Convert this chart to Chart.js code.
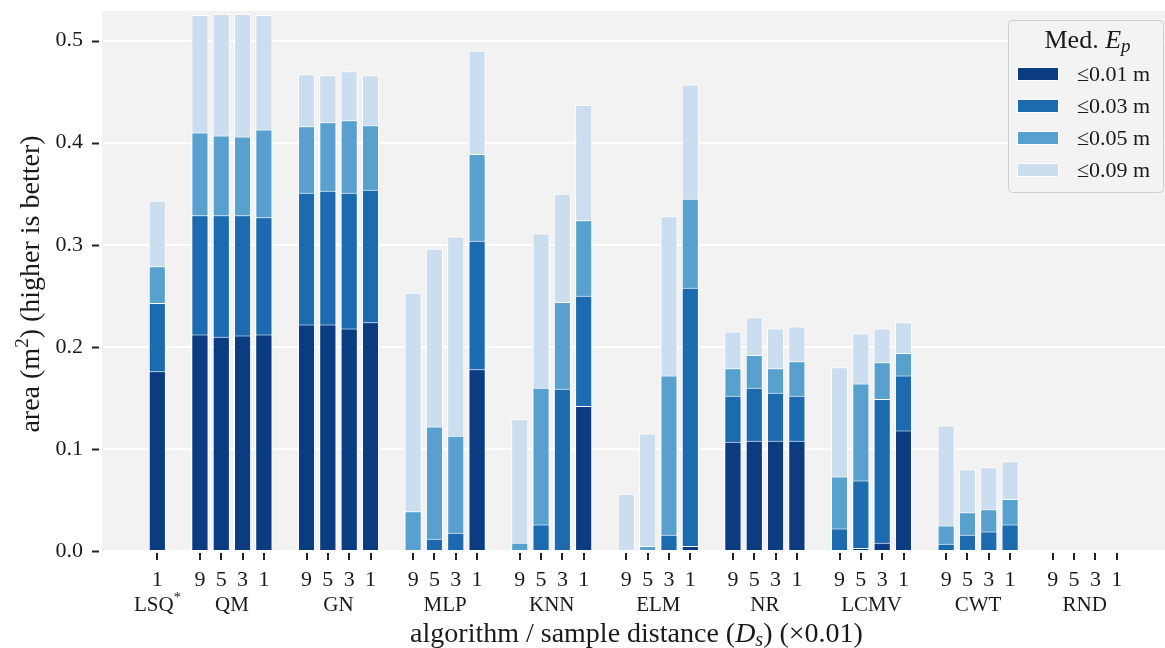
<!DOCTYPE html>
<html>
<head>
<meta charset="utf-8">
<script src="https://cdn.jsdelivr.net/npm/chart.js@4.4.1/dist/chart.umd.min.js"></script>
<style>
  html, body { margin: 0; padding: 0; background: #fff; overflow: hidden; }
  #wrap { width: 1170px; height: 648px; }
</style>
</head>
<body>
<div id="wrap"><canvas id="areaChart"></canvas></div>
<script>
// algorithms and sample distances (x0.01)
const algorithms = ["LSQ", "QM", "GN", "MLP", "KNN", "ELM", "NR", "LCMV", "CWT", "RND"];
const lsqDistances = ["1"];
const distances = ["9", "5", "3", "1"];

// cumulative area (m^2) where median E_p is below each threshold
// order: LSQ 1, then 9/5/3/1 for QM, GN, MLP, KNN, ELM, NR, LCMV, CWT, RND
const le001 = [0.176,
  0.212, 0.210, 0.211, 0.212,
  0.222, 0.222, 0.218, 0.224,
  0, 0, 0, 0.178,
  0, 0, 0, 0.142,
  0, 0, 0, 0.005,
  0.107, 0.108, 0.108, 0.108,
  0, 0.003, 0.008, 0.118,
  0, 0, 0, 0,
  0, 0, 0, 0];
const le003 = [0.243,
  0.329, 0.329, 0.329, 0.327,
  0.351, 0.353, 0.351, 0.354,
  0.001, 0.012, 0.018, 0.304,
  0, 0.026, 0.159, 0.250,
  0, 0, 0.016, 0.258,
  0.152, 0.160, 0.155, 0.152,
  0.022, 0.069, 0.149, 0.172,
  0.007, 0.016, 0.019, 0.026,
  0, 0, 0, 0];
const le005 = [0.279,
  0.410, 0.407, 0.406, 0.413,
  0.416, 0.420, 0.422, 0.417,
  0.039, 0.122, 0.113, 0.389,
  0.008, 0.160, 0.244, 0.324,
  0, 0.005, 0.172, 0.345,
  0.179, 0.192, 0.179, 0.186,
  0.073, 0.164, 0.185, 0.194,
  0.025, 0.038, 0.041, 0.051,
  0, 0, 0, 0];
const le009 = [0.343,
  0.525, 0.526, 0.526, 0.525,
  0.467, 0.466, 0.470, 0.466,
  0.253, 0.296, 0.308, 0.490,
  0.129, 0.311, 0.350, 0.437,
  0.056, 0.115, 0.328, 0.457,
  0.215, 0.229, 0.218, 0.220,
  0.180, 0.213, 0.218, 0.224,
  0.123, 0.080, 0.082, 0.088,
  0, 0, 0, 0];

const seriesLabels = ["\u22640.01 m", "\u22640.03 m", "\u22640.05 m", "\u22640.09 m"];
const seriesColors = ["#0b3b80", "#1c6aaf", "#58a1cf", "#cbdef0"];
const yTicks = [0, 0.1, 0.2, 0.3, 0.4, 0.5];

const FONT = '"Liberation Serif", "DejaVu Serif", serif';
const TEXT = "#1a1a1a";

// lay out slots: two empty at the start, one gap between groups, two at the end
const slotLabels = ["", ""];
const slotIndex = [-1, -1];
const groupSpans = [];
let k = 0;
algorithms.forEach((name, g) => {
  if (g > 0) { slotLabels.push(""); slotIndex.push(-1); }
  const d = g === 0 ? lsqDistances : distances;
  const first = slotLabels.length;
  d.forEach(v => { slotLabels.push(v); slotIndex.push(k++); });
  groupSpans.push([first, slotLabels.length - 1]);
});
slotLabels.push("", "");
slotIndex.push(-1, -1);

function toSlots(arr) {
  return slotIndex.map(i => i < 0 ? null : arr[i]);
}

const allSeries = [le001, le003, le005, le009];
const datasets = allSeries.map((s, i) => ({
  label: seriesLabels[i],
  data: toSlots(s),
  backgroundColor: seriesColors[i],
  borderColor: "#ffffff",
  borderWidth: 1,
  order: i + 1
}));

function drawRich(ctx, parts, x, y, align) {
  let total = 0;
  parts.forEach(p => { ctx.font = p.font; p.w = ctx.measureText(p.text).width; total += p.w; });
  let cx = align === "center" ? x - total / 2 : x;
  ctx.textAlign = "left";
  parts.forEach(p => {
    ctx.font = p.font;
    ctx.fillText(p.text, cx, y + (p.dy || 0));
    cx += p.w;
  });
}

const PLOT_LEFT = 102;   // where the grey panel starts
const VIEW_RIGHT = 1165; // visible width of the page

const decorPlugin = {
  id: "decor",
  beforeDraw(chart) {
    const { ctx, chartArea: a } = chart;
    ctx.save();
    ctx.fillStyle = "#f2f2f2";
    ctx.fillRect(PLOT_LEFT, a.top, a.right - PLOT_LEFT, a.bottom - a.top);
    ctx.restore();
  },
  afterDraw(chart) {
    const { ctx, chartArea: a } = chart;
    const xs = chart.scales.x, ys = chart.scales.y;
    ctx.save();
    ctx.strokeStyle = "#222";
    ctx.lineWidth = 2;
    // y tick marks
    yTicks.forEach(v => {
      const y = Math.round(ys.getPixelForValue(v)) + 0.5;
      ctx.beginPath(); ctx.moveTo(PLOT_LEFT - 10, y); ctx.lineTo(PLOT_LEFT - 3, y); ctx.stroke();
    });
    // x tick marks
    slotLabels.forEach((l, i) => {
      if (!l) return;
      const x = Math.round(xs.getPixelForValue(i));
      ctx.beginPath(); ctx.moveTo(x, a.bottom + 2); ctx.lineTo(x, a.bottom + 9); ctx.stroke();
    });

    ctx.fillStyle = TEXT;
    ctx.textBaseline = "middle";
    // group names
    groupSpans.forEach((sp, g) => {
      const x = (xs.getPixelForValue(sp[0]) + xs.getPixelForValue(sp[1])) / 2;
      const parts = [{ text: algorithms[g], font: "21px " + FONT }];
      if (g === 0) parts.push({ text: "*", font: "14px " + FONT, dy: -7 });
      drawRich(ctx, parts, x, 605, "center");
    });

    // x title
    ctx.textBaseline = "alphabetic";
    drawRich(ctx, [
      { text: "algorithm / sample distance (", font: "28px " + FONT },
      { text: "D", font: "italic 28px " + FONT },
      { text: "s", font: "italic 20px " + FONT, dy: 4 },
      { text: ") (\u00d70.01)", font: "28px " + FONT }
    ], (PLOT_LEFT + VIEW_RIGHT) / 2 + 3, 642, "center");

    // y title
    ctx.save();
    ctx.translate(39, (a.top + a.bottom) / 2 + 3);
    ctx.rotate(-Math.PI / 2);
    drawRich(ctx, [
      { text: "area (m", font: "28px " + FONT },
      { text: "2", font: "19px " + FONT, dy: -11 },
      { text: ") (higher is better)", font: "28px " + FONT }
    ], 0, 0, "center");
    ctx.restore();

    // legend
    const lw = 155, lh = 172;
    const lx = VIEW_RIGHT - lw - 2, ly = a.top + 9;
    ctx.beginPath();
    ctx.roundRect(lx + 0.5, ly + 0.5, lw, lh, 4);
    ctx.fillStyle = "#f3f3f3";
    ctx.fill();
    ctx.strokeStyle = "#cfcfcf";
    ctx.lineWidth = 1;
    ctx.stroke();
    ctx.fillStyle = TEXT;
    ctx.textBaseline = "alphabetic";
    drawRich(ctx, [
      { text: "Med. ", font: "26px " + FONT },
      { text: "E", font: "italic 26px " + FONT },
      { text: "p", font: "italic 19px " + FONT, dy: 4 }
    ], lx + lw / 2 + 2, ly + 28, "center");
    ctx.textBaseline = "middle";
    chart.data.datasets.forEach((ds, i) => {
      const cy = ly + 54 + i * 32;
      ctx.fillStyle = ds.backgroundColor;
      ctx.fillRect(lx + 9, cy - 7, 42, 14);
      ctx.strokeStyle = "#ffffff";
      ctx.strokeRect(lx + 9.5, cy - 6.5, 41, 13);
      ctx.fillStyle = TEXT;
      ctx.font = "22px " + FONT;
      ctx.textAlign = "left";
      ctx.fillText(ds.label, lx + 69, cy + 1);
    });
    ctx.restore();
  }
};

new Chart(document.getElementById("areaChart"), {
  type: "bar",
  data: { labels: slotLabels, datasets: datasets },
  options: {
    responsive: true,
    maintainAspectRatio: false,
    animation: false,
    devicePixelRatio: 1,
    layout: { padding: { top: 11, right: 0, left: 0, bottom: 0 } },
    plugins: { legend: { display: false }, tooltip: { enabled: false } },
    datasets: { bar: { categoryPercentage: 1, barPercentage: 0.8 } },
    scales: {
      x: {
        stacked: true,
        grid: { display: false, drawTicks: false },
        border: { display: false },
        ticks: {
          autoSkip: false, maxRotation: 0, padding: 16,
          color: TEXT, font: { family: FONT, size: 22 }
        },
        afterFit(scale) {
          scale.height = 97;
          scale.paddingLeft = 0;
          scale.paddingRight = 0;
        }
      },
      y: {
        stacked: false,
        min: 0, max: 0.529,
        grid: { color: "#ffffff", lineWidth: 2, drawTicks: false },
        border: { display: false },
        ticks: {
          padding: 21, color: TEXT, font: { family: FONT, size: 22 },
          callback: v => v.toFixed(1)
        },
        afterBuildTicks(scale) { scale.ticks = yTicks.map(v => ({ value: v })); },
        afterFit(scale) {
          scale.width = 104;
          scale.paddingTop = 0;
          scale.paddingBottom = 0;
        }
      }
    }
  },
  plugins: [decorPlugin]
});
</script>
</body>
</html>
